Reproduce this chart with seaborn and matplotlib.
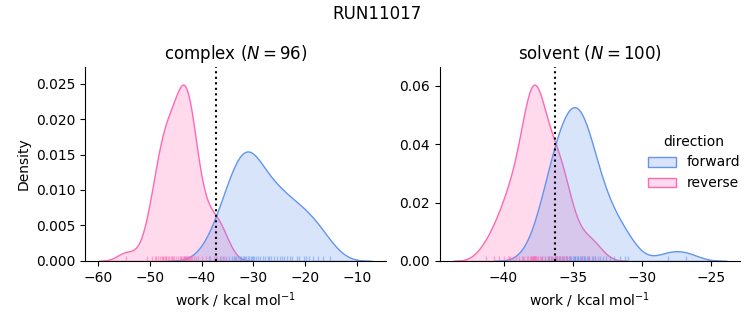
import numpy as np
import pandas as pd
import matplotlib
matplotlib.use("Agg")
import matplotlib.pyplot as plt
import seaborn as sns

# work values (kcal/mol)
complex_forward = [-38.5, -37.2, -36.4, -35.8, -35.2, -34.7, -34.2, -33.8, -33.4, -33.0,
                   -32.6, -32.3, -32.0, -31.7, -31.4, -31.1, -30.8, -30.5, -30.2, -29.9,
                   -29.5, -29.1, -28.7, -28.2, -27.7, -27.2, -26.6, -26.0, -25.4, -24.8,
                   -24.2, -23.6, -23.0, -22.5, -27.0, -21.6, -21.2, -24.5, -20.3, -19.8,
                   -19.2, -18.5, -17.6, -16.5, -15.3, -31.9, -30.0, -33.6]
complex_reverse = [-54.5, -50.5, -49.6, -48.9, -48.4, -48.0, -47.7, -47.4, -47.1, -46.8,
                   -46.5, -46.2, -45.9, -45.6, -45.3, -45.0, -44.6, -44.2, -43.9, -43.6,
                   -43.4, -43.2, -43.0, -42.8, -42.6, -42.4, -42.2, -42.0, -41.8, -41.5,
                   -41.1, -40.6, -40.0, -39.2, -38.4, -37.6, -37.0, -36.3, -35.6, -43.1,
                   -42.9, -43.3, -42.7, -47.5, -46.9, -44.0, -48.7, -45.5]
solvent_forward = [-37.8, -37.2, -36.8, -36.5, -36.3, -36.1, -35.9, -35.8, -35.7, -35.6,
                   -35.5, -35.4, -35.3, -35.2, -35.1, -35.0, -34.9, -34.8, -34.7, -34.6,
                   -34.5, -34.4, -34.3, -34.2, -34.1, -34.0, -33.9, -33.8, -33.6, -33.4,
                   -33.2, -33.0, -32.8, -32.6, -32.3, -32.0, -31.6, -31.2, -36.6, -37.0,
                   -34.6, -34.2, -36.0, -33.5, -36.7, -28.1, -26.8, -31.0, -36.2, -34.8]
solvent_reverse = [-41.3, -40.7, -40.3, -40.0, -39.7, -39.5, -39.3, -39.1, -38.9, -38.7,
                   -38.5, -38.3, -38.2, -38.1, -38.0, -37.95, -37.9, -37.85, -37.8, -37.75,
                   -37.7, -37.65, -37.6, -37.5, -37.4, -37.3, -37.2, -37.0, -36.8, -36.6,
                   -36.4, -36.2, -36.0, -35.8, -35.6, -35.4, -35.9, -36.1, -35.5, -35.2,
                   -38.05, -37.85, -37.75, -36.7, -36.3, -34.3, -33.8, -33.4, -39.6, -38.6]

phases = ["complex", "solvent"]
estimates = [-37.2, -36.3]
palette = {"forward": "cornflowerblue", "reverse": "hotpink"}

rows = []
for phase, (fwd, rev) in zip(phases, [(complex_forward, complex_reverse),
                                      (solvent_forward, solvent_reverse)]):
    rows += [(phase, "forward", w) for w in fwd]
    rows += [(phase, "reverse", w) for w in rev]
df = pd.DataFrame(rows, columns=["phase", "direction", "work"])

g = sns.displot(data=df, x="work", hue="direction", col="phase", kind="kde",
                fill=True, rug=True, palette=palette, hue_order=["forward", "reverse"],
                col_order=phases, rug_kws=dict(alpha=0.5),
                facet_kws=dict(sharex=False, sharey=False))
fig = g.figure
fig.set_size_inches(7.53, 3.25)
fig.set_dpi(100)
fig.subplots_adjust(left=0.113, right=0.983, bottom=0.197, top=0.794, wspace=0.18)

for ax, phase, est in zip(g.axes.flat, phases, estimates):
    n = int((df["phase"] == phase).sum())
    ax.axvline(est, color="black", linestyle=":", linewidth=1.5)
    ax.set_title(f"{phase} ($N = {n}$)", fontsize=12)
    ax.set_xlabel("work / kcal mol$^{-1}$")
g.axes.flat[0].set_ylabel("Density")
g.axes.flat[1].set_ylabel("")

sns.move_legend(g, "center right", bbox_to_anchor=(1.0, 0.5), frameon=False)
fig.suptitle("RUN11017", fontsize=12, y=0.985)
fig.savefig("out.png", dpi=100)
